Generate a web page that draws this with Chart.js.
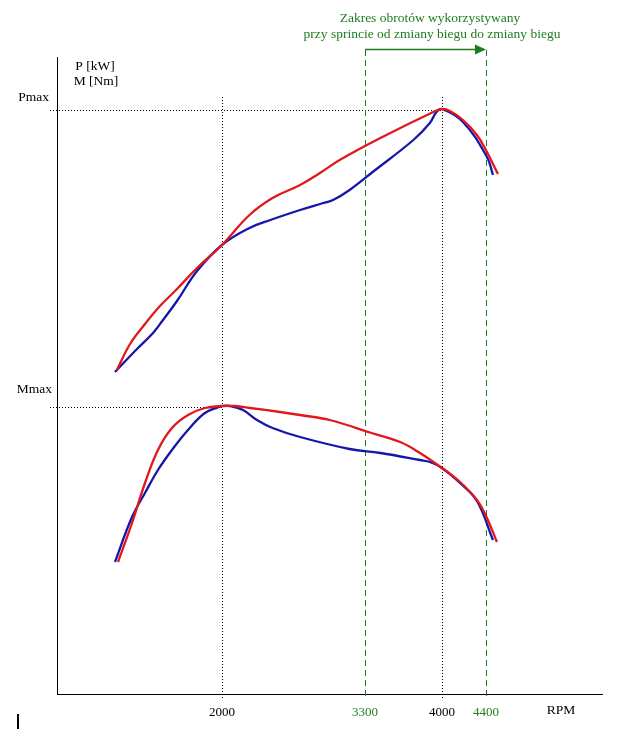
<!DOCTYPE html>
<html>
<head>
<meta charset="utf-8">
<script src="https://cdn.jsdelivr.net/npm/chart.js@4/dist/chart.umd.min.js"></script>
<style>
  html, body { margin: 0; padding: 0; background: #fff; }
  #wrap { width: 624px; height: 730px; position: relative; }
</style>
</head>
<body>
<div id="wrap"><canvas id="chart"></canvas></div>
<script>
// DANE - obroty i wartosci (jednostki umowne)
const pRedRpm  = [1045, 1164, 1300, 1436, 1591, 1773, 2000, 2250, 2460, 2710, 2890, 3070, 3440, 3940, 4000, 4073, 4191, 4318, 4409, 4509];
const pRed     = [324, 350, 370, 388, 405, 426, 449, 479, 496, 509, 521, 534, 556, 583, 585, 583, 574, 559, 542, 520];
const pBlueRpm = [1027, 1227, 1373, 1464, 1591, 1773, 2000, 2250, 2440, 2710, 2920, 3010, 3160, 3370, 3740, 3890, 3950, 4000, 4191, 4409, 4464];
const pBlue    = [322, 345, 361, 374, 393, 423, 449, 466, 474, 484, 491, 494, 504, 522, 554, 571, 582, 585, 572, 537, 519];
const mRedRpm  = [1055, 1182, 1300, 1418, 1545, 1691, 1845, 2000, 2118, 2255, 2530, 2710, 2980, 3360, 3620, 3800, 4000, 4164, 4318, 4409, 4500];
const mRed     = [132, 171, 211, 244, 266, 279, 286, 288, 288, 286, 282, 279, 274, 261, 252, 241, 226, 212, 194, 176, 152];
const mBlueRpm = [1027, 1182, 1300, 1418, 1545, 1691, 1845, 2000, 2073, 2191, 2318, 2460, 2710, 3160, 3440, 3800, 3891, 4000, 4164, 4318, 4464];
const mBlue    = [132, 177, 201, 224, 244, 264, 281, 288, 288, 284, 274, 266, 257, 245, 241, 234, 232, 226, 211, 193, 154];

const xTicks = [2000, 3300, 4000, 4400];
const greenTicks = [3300, 4400];
const pMax = 584;
const mMax = 287;
const pMaxRpm = 4000;
const mMaxRpm = 2000;

const GREEN = '#1f7d1f';
const FONT = '"Liberation Serif", "DejaVu Serif", serif';

function pts(xs, ys) {
  return xs.map((x, i) => ({ x: x, y: ys[i] }));
}

// linie pomocnicze, opisy i strzalka
const overlay = {
  id: 'overlay',
  beforeDatasetsDraw(chart) {
    const c = chart.ctx, xs = chart.scales.x, ys = chart.scales.y;
    const left = chart.chartArea.left;
    c.save();
    c.lineWidth = 1;
    // kropkowane poziome Pmax / Mmax
    c.strokeStyle = '#000';
    c.setLineDash([1, 2]);
    [[pMax, pMaxRpm], [mMax, mMaxRpm]].forEach(([v, r]) => {
      const y = Math.round(ys.getPixelForValue(v)) + 0.5;
      c.beginPath();
      c.moveTo(left - 7, y);
      c.lineTo(xs.getPixelForValue(r), y);
      c.stroke();
    });
    // kropkowane pionowe 2000 / 4000
    [mMaxRpm, pMaxRpm].forEach(r => {
      const x = Math.round(xs.getPixelForValue(r)) + 0.5;
      c.beginPath();
      c.moveTo(x, ys.getPixelForValue(597));
      c.lineTo(x, ys.getPixelForValue(-6));
      c.stroke();
    });
    // zielone przerywane 3300 / 4400
    c.strokeStyle = GREEN;
    c.setLineDash([6, 4]);
    greenTicks.forEach(r => {
      const x = Math.round(xs.getPixelForValue(r)) + 0.5;
      c.beginPath();
      c.moveTo(x, ys.getPixelForValue(644));
      c.lineTo(x, ys.getPixelForValue(-6));
      c.stroke();
    });
    c.restore();
  },
  afterDraw(chart) {
    const c = chart.ctx, xs = chart.scales.x, ys = chart.scales.y;
    c.save();
    // strzalka zakresu
    const x1 = xs.getPixelForValue(greenTicks[0]);
    const x2 = xs.getPixelForValue(greenTicks[1]);
    const ya = Math.round(ys.getPixelForValue(645)) + 0.5;
    c.strokeStyle = GREEN;
    c.fillStyle = GREEN;
    c.lineWidth = 1.5;
    c.beginPath();
    c.moveTo(x1, ya);
    c.lineTo(x2 - 9, ya);
    c.stroke();
    c.beginPath();
    c.moveTo(x2, ya);
    c.lineTo(x2 - 11, ya - 5);
    c.lineTo(x2 - 11, ya + 5);
    c.closePath();
    c.fill();

    c.font = '13.5px ' + FONT;
    c.textAlign = 'center';
    c.textBaseline = 'middle';
    c.fillText('Zakres obrotów wykorzystywany', 430, 18);
    c.fillText('przy sprincie od zmiany biegu do zmiany biegu', 432, 34);

    c.fillStyle = '#000';
    c.fillText('P [kW]', 95, 66);
    c.fillText('M [Nm]', 96, 81);
    c.textAlign = 'right';
    c.fillText('Pmax', 49, 97);
    c.fillText('Mmax', 52, 389);
    c.textAlign = 'center';
    c.fillText('RPM', 561, 710);

    // mala kreska w rogu
    c.strokeStyle = '#000';
    c.lineWidth = 2;
    c.beginPath();
    c.moveTo(18, 714);
    c.lineTo(18, 729);
    c.stroke();
    c.restore();
  }
};

const ctx = document.getElementById('chart');
const myChart = new Chart(ctx, {
  type: 'line',
  data: {
    datasets: [
      { label: 'P czerwony', data: pts(pRedRpm, pRed), borderColor: '#e0181c' },
      { label: 'M czerwony', data: pts(mRedRpm, mRed), borderColor: '#e0181c' },
      { label: 'P niebieski', data: pts(pBlueRpm, pBlue), borderColor: '#1616aa' },
      { label: 'M niebieski', data: pts(mBlueRpm, mBlue), borderColor: '#1616aa' }
    ]
  },
  options: {
    responsive: true,
    maintainAspectRatio: false,
    animation: false,
    layout: { padding: { top: 57, right: 22, left: 0, bottom: 0 } },
    elements: {
      line: { borderWidth: 2.3, tension: 0.4, fill: false },
      point: { radius: 0 }
    },
    plugins: { legend: { display: false }, tooltip: { enabled: false } },
    scales: {
      x: {
        type: 'linear',
        min: 500,
        max: 5455,
        grid: { display: false },
        border: { display: true, color: '#000', width: 1 },
        afterBuildTicks: (scale) => { scale.ticks = xTicks.map(v => ({ value: v })); },
        afterFit: (scale) => { scale.height = 36; },
        ticks: {
          autoSkip: false,
          maxRotation: 0,
          padding: 3,
          font: { family: FONT, size: 13 },
          color: (c) => greenTicks.includes(c.tick.value) ? GREEN : '#000',
          callback: (v) => String(v)
        }
      },
      y: {
        type: 'linear',
        min: 0,
        max: 637,
        grid: { display: false },
        border: { display: true, color: '#000', width: 1 },
        ticks: { display: false },
        afterFit: (scale) => { scale.width = 57; }
      }
    }
  },
  plugins: [overlay]
});
</script>
</body>
</html>
